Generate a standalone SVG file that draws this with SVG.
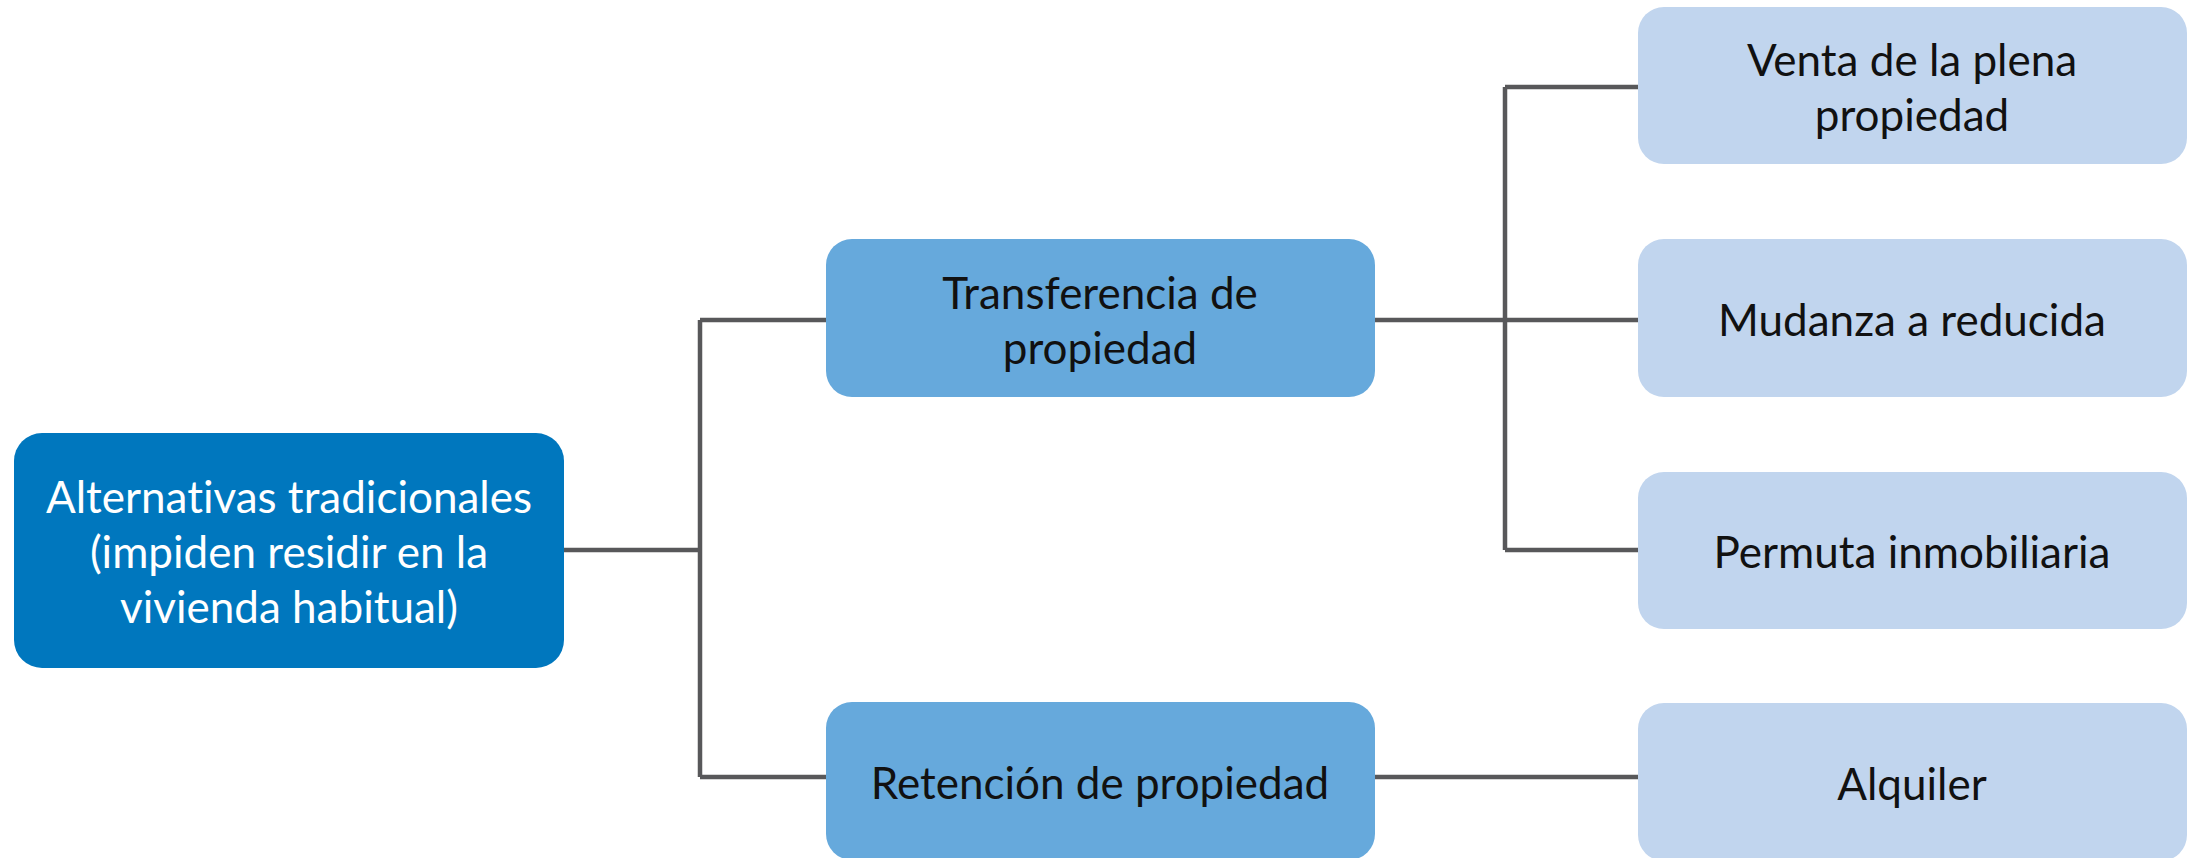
<svg xmlns="http://www.w3.org/2000/svg" width="2196" height="858" viewBox="0 0 2196 858">
<style>
.n{stroke:none}
.root{fill:#0077BE}
.mid{fill:#66A9DC}
.leaf{fill:#C1D5EE}
.t{font-family:Lato,"Liberation Sans",sans-serif;font-size:44px;text-anchor:middle;fill:#111;font-variant-ligatures:none}
.tw{fill:#fff}
.c{fill:none;stroke:#58585A;stroke-width:4.5}
</style>
<rect width="2196" height="858" fill="#fff"/>
<g id="connectors">
<path class="c" d="M564 550 H700 M700 320 V777 M700 320 H826 M700 777 H826"/>
<path class="c" d="M1375 320 H1638 M1505 87 V550 M1505 87 H1638 M1505 550 H1638 M1375 777 H1638"/>
</g>
<g id="root">
<rect class="root" x="14" y="433" width="550" height="235" rx="28"/>
<text class="t tw" x="289" y="513">Alternativas tradicionales</text>
<text class="t tw" x="289" y="568">(impiden residir en la</text>
<text class="t tw" x="289" y="623">vivienda habitual)</text>
</g>
<g id="transferencia">
<rect class="mid" x="826" y="239" width="549" height="158" rx="26"/>
<text class="t" x="1100" y="309">Transferencia de</text>
<text class="t" x="1100" y="364">propiedad</text>
</g>
<g id="retencion">
<rect class="mid" x="826" y="702" width="549" height="158" rx="26"/>
<text class="t" x="1100" y="799">Retención de propiedad</text>
</g>
<g id="venta">
<rect class="leaf" x="1638" y="7" width="549" height="157" rx="26"/>
<text class="t" x="1912" y="76">Venta de la plena</text>
<text class="t" x="1912" y="131">propiedad</text>
</g>
<g id="mudanza">
<rect class="leaf" x="1638" y="239" width="549" height="158" rx="26"/>
<text class="t" x="1912" y="336">Mudanza a reducida</text>
</g>
<g id="permuta">
<rect class="leaf" x="1638" y="472" width="549" height="157" rx="26"/>
<text class="t" x="1912" y="568">Permuta inmobiliaria</text>
</g>
<g id="alquiler">
<rect class="leaf" x="1638" y="703" width="549" height="158" rx="26"/>
<text class="t" x="1912" y="800">Alquiler</text>
</g>
</svg>
